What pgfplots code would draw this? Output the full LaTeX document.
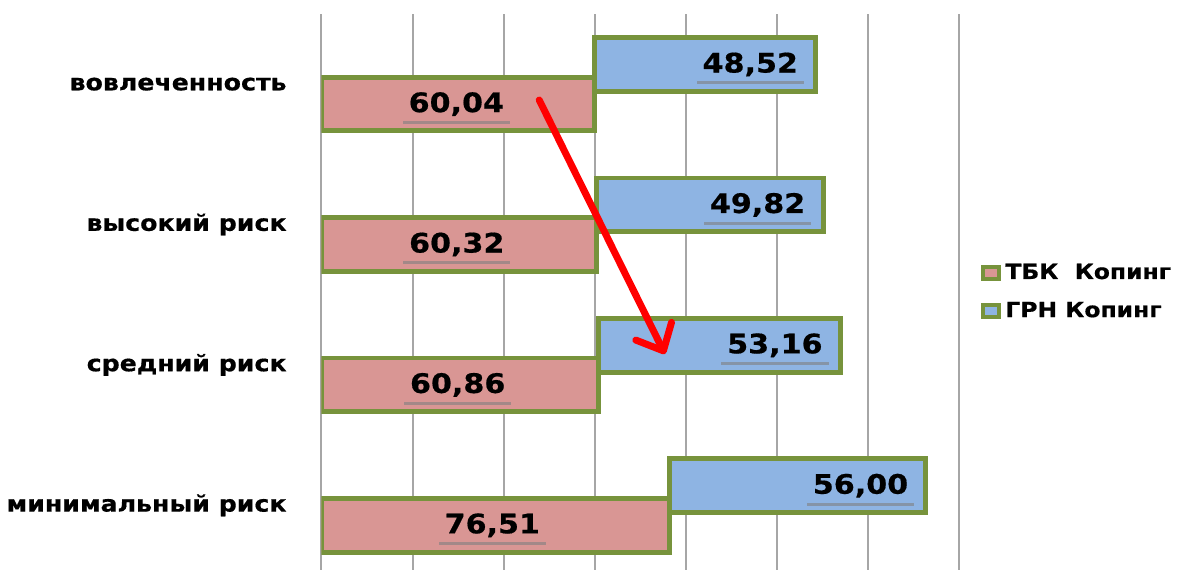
\documentclass[border=0pt]{standalone}
\usepackage{fontspec}
\setmainfont{DejaVu Sans}[FakeStretch=1.12, BoldFeatures={FakeBold=0.6}]
\usepackage{pgfplots}
\pgfplotsset{compat=1.18}
\usetikzlibrary{arrows.meta,shadows}
\definecolor{redfill}{HTML}{D99694}
\definecolor{bluefill}{HTML}{8EB4E3}
\definecolor{bord}{HTML}{77933C}
\definecolor{gridc}{HTML}{A6A6A6}
\begin{document}
\begin{tikzpicture}
\begin{axis}[name=main, at={(0,0)}, anchor=south west,
  scale only axis, width=320pt, height=279pt,
  xbar stacked, bar width=0.383,
  xmin=0, xmax=140, ymin=-0.46, ymax=3.5,
  axis line style={draw=none},
  xtick={0,20,...,140}, xticklabels={},
  xmajorgrids, major grid style={gridc, line width=1pt},
  ytick={0,1,2,3},
  yticklabels={минимальный риск, средний риск, высокий риск, вовлеченность},
  major tick length=0pt,
  yticklabel style={font=\bfseries\fontsize{11.3}{13}\selectfont, xshift=-14pt},
  legend style={at={(1.025,0.5)}, anchor=west, draw=none, fill=none,
    font=\bfseries\fontsize{10.5}{12}\selectfont, row sep=6pt},
  legend cell align=left,
  legend image code/.code={\draw[#1, line width=2pt] (0pt,-3pt) rectangle (8pt,3pt);},
]
\addplot[fill=redfill, draw=bord, line width=2.5pt, bar shift=-0.142]
  coordinates {(60.04,3) (60.32,2) (60.86,1) (76.51,0)};
\addplot[fill=bluefill, draw=bord, line width=2.5pt, bar shift=0.14]
  coordinates {(48.52,3) (49.82,2) (53.16,1) (56.00,0)};
\legend{ТБК\ \ Копинг, ГРН Копинг}
\end{axis}
\begin{axis}[at={(0,0)}, anchor=south west,
  scale only axis, width=320pt, height=279pt,
  xmin=0, xmax=140, ymin=-0.46, ymax=3.5, hide axis]
\addplot[draw=none, mark=none, nodes near coords, point meta=explicit symbolic,
  nodes near coords align=center,
  nodes near coords style={font=\bfseries\fontsize{13.5}{15}\selectfont, anchor=center,
    fill=redfill, inner xsep=3pt, inner ysep=2.5pt,
    drop shadow={shadow xshift=0pt, shadow yshift=-1.5pt, opacity=0.6}}]
  table[meta=lab] {
x y lab
29.6 2.858 60,04
29.7 1.858 60,32
29.9 0.858 60,86
37.5 -0.142 76,51
};
\addplot[draw=none, mark=none, nodes near coords, point meta=explicit symbolic,
  nodes near coords style={font=\bfseries\fontsize{13.5}{15}\selectfont, anchor=east,
    fill=bluefill, inner xsep=3pt, inner ysep=2.5pt,
    drop shadow={shadow xshift=0pt, shadow yshift=-1.5pt, opacity=0.6}}]
  table[meta=lab] {
x y lab
106.0 3.14 48,52
107.6 2.14 49,82
111.4 1.14 53,16
130.2 0.14 56,00
};
\draw[red, line width=3.5pt, line cap=round, line join=round,
  -{Straight Barb[length=11pt, width=20pt, round]}]
  (axis cs:47.8,2.887) -- (axis cs:75.4,1.078);
\end{axis}
\path ([xshift=-160pt]main.south west) rectangle ([xshift=110.5pt,yshift=7pt]main.north east);
\end{tikzpicture}
\end{document}
